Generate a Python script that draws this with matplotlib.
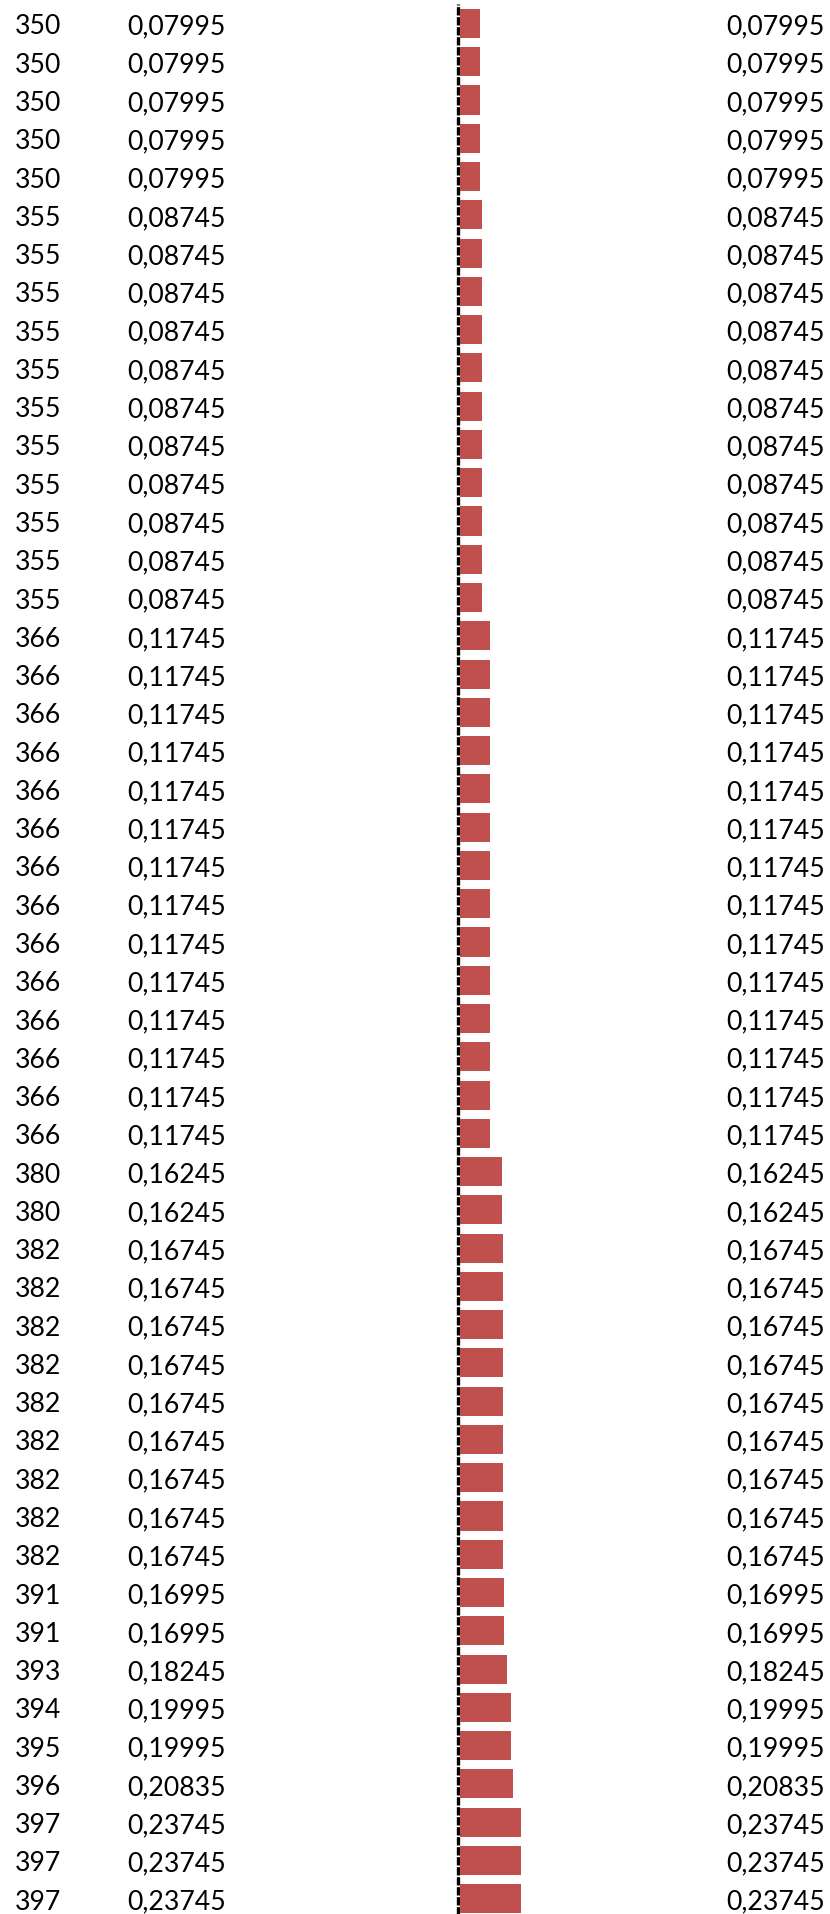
import matplotlib
matplotlib.use("Agg")
import matplotlib.pyplot as plt
import matplotlib.transforms as mtransforms

ids = [350]*5 + [355]*11 + [366]*14 + [380]*2 + [382]*9 + [391]*2 + [393, 394, 395, 396] + [397]*3
values = ([0.07995]*5 + [0.08745]*11 + [0.11745]*14 + [0.16245]*2 + [0.16745]*9 +
          [0.16995]*2 + [0.18245, 0.19995, 0.19995, 0.20835] + [0.23745]*3)

def fmt(v):
    return f"{v:.5f}".replace(".", ",")

W, H = 830, 1915
dpi = 100
fig = plt.figure(figsize=(W/dpi, H/dpi), dpi=dpi)
plt.rcParams['font.family'] = ['Lato', 'DejaVu Sans']

n = len(values)
row = 38.27
top_px = 24.5 - row/2
ax_h = n*row
ax = fig.add_axes([0, (H - top_px - ax_h)/H, 1, ax_h/H])
ax.set_ylim(n - 0.5, -0.5)
scale = 256.0  # px per unit
x0 = 460.0
ax.set_xlim(-x0/scale, (W - x0)/scale)
ax.axis('off')

ys = list(range(n))
ax.barh(ys, values, left=0, height=0.76, color='#C0504D', zorder=3)
ax.axvline(-1.7/scale, color='black', lw=2.4, linestyle=(0, (2.5, 0.5)), zorder=2)

tr = mtransforms.blended_transform_factory(fig.transFigure, ax.transData)
fs = 19.2
for i, (k, v) in enumerate(zip(ids, values)):
    ax.text(15/W, i, str(k), transform=tr, ha='left', va='center_baseline', fontsize=fs, color='black')
    ax.text(127/W, i, fmt(v), transform=tr, ha='left', va='center_baseline', fontsize=fs, color='black')
    ax.text(825/W, i, fmt(v), transform=tr, ha='right', va='center_baseline', fontsize=fs, color='black')

fig.savefig("out.png", dpi=dpi)
